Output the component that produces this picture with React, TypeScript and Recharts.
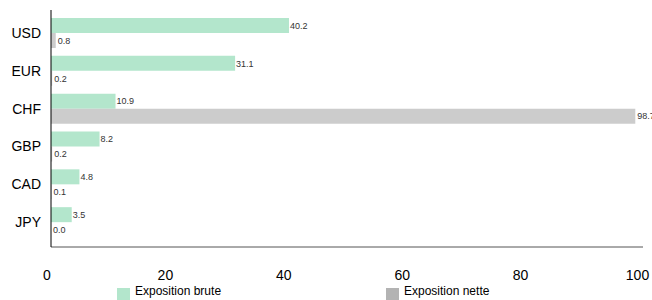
import { Bar, BarChart, LabelList, Legend, XAxis, YAxis } from "recharts";

const currencies = ["USD", "EUR", "CHF", "GBP", "CAD", "JPY"];
const grossExposure = [40.2, 31.1, 10.9, 8.2, 4.8, 3.5];
const netExposure = [0.8, 0.2, 98.7, 0.2, 0.1, 0.0];
const xTicks = [0, 20, 40, 60, 80, 100];

const data = currencies.map((currency, i) => ({
  currency,
  brute: grossExposure[i],
  nette: netExposure[i],
}));

const fmt = (v: any) => Number(v).toFixed(1);

function ChartLegend() {
  const items = [
    { label: "Exposition brute", color: "#b3e6cc", left: 117 },
    { label: "Exposition nette", color: "#b3b3b3", left: 386 },
  ];
  return (
    <div style={{ position: "relative", height: 0 }}>
      {items.map((it) => (
        <div
          key={it.label}
          style={{
            position: "absolute",
            left: it.left,
            top: 0,
            display: "flex",
            alignItems: "flex-start",
            whiteSpace: "nowrap",
          }}
        >
          <span style={{ width: 13, height: 13, marginTop: 4, background: it.color, display: "inline-block" }} />
          <span style={{ marginLeft: 5, fontSize: 12, color: "#000", lineHeight: "14px" }}>{it.label}</span>
        </div>
      ))}
    </div>
  );
}

export default function App() {
  return (
    <div style={{ position: "absolute", left: 0, top: 0, fontFamily: "'Liberation Sans', Arial, sans-serif" }}>
      <BarChart
        width={652}
        height={300}
        data={data}
        layout="vertical"
        margin={{ top: 10, right: 9, left: 0, bottom: 0 }}
        barSize={15}
        barGap={0}
      >
        <XAxis
          type="number"
          domain={[0, 100]}
          ticks={xTicks}
          tickLine={false}
          axisLine={{ stroke: "#555" }}
          tick={{ fontSize: 14, fill: "#000", dx: -4 }}
          tickMargin={17}
          height={53}
        />
        <YAxis
          type="category"
          dataKey="currency"
          width={51}
          tickLine={false}
          axisLine={{ stroke: "#000" }}
          tick={{ fontSize: 14, fill: "#000" }}
          tickMargin={4}
          padding={{ top: 4, bottom: 6 }}
        />
        <Legend content={<ChartLegend />} wrapperStyle={{ top: 284, left: 0, bottom: "auto", width: 652 }} />
        <Bar dataKey="brute" name="Exposition brute" fill="#b3e6cc" isAnimationActive={false}>
          <LabelList dataKey="brute" position="right" offset={1} formatter={fmt} style={{ fontSize: 9, fill: "#333" }} />
        </Bar>
        <Bar dataKey="nette" name="Exposition nette" fill="#cccccc" minPointSize={0.1} isAnimationActive={false}>
          <LabelList dataKey="nette" position="right" offset={2} formatter={fmt} style={{ fontSize: 9, fill: "#333" }} />
        </Bar>
      </BarChart>
    </div>
  );
}
